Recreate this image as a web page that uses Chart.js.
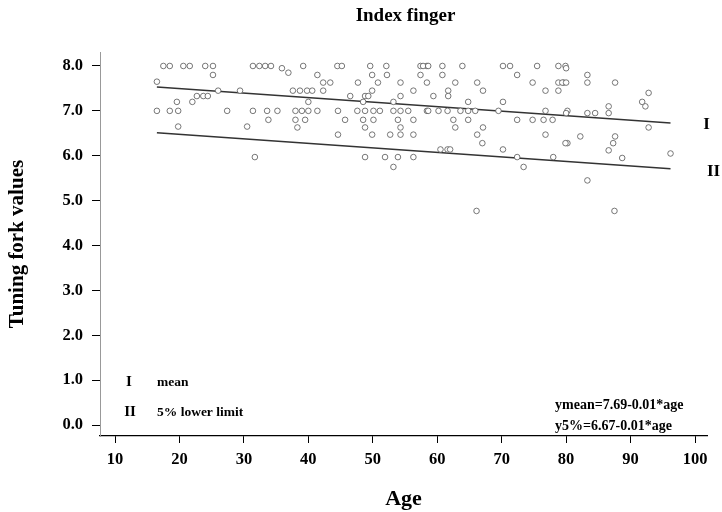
<!DOCTYPE html>
<html>
<head>
<meta charset="utf-8">
<script src="https://cdn.jsdelivr.net/npm/chart.js@4"></script>
<style>
  body { margin: 0; background: #fff; }
</style>
</head>
<body>
<canvas id="Chart_Index" width="722" height="512"></canvas>
<script>
// ages and tuning fork readings, grouped by reading
const ages = [
  17.5, 18.5, 20.6, 21.6, 24.0, 25.2, 31.4, 32.4, 33.3, 34.2, 35.9, 39.2, 44.5, 45.2, 49.6, 52.1, 57.4, 58.4,
  57.8, 58.6, 60.8, 63.9, 70.2, 71.3, 75.5, 78.8, 79.9, 80.0,
  25.2, 36.9, 41.4, 49.9, 52.2, 57.4, 60.8, 72.4, 83.3,
  16.5, 42.3, 43.4, 47.7, 50.8, 54.3, 58.4, 62.8, 66.2, 74.8, 78.8, 79.6, 79.4, 80.0, 83.3, 87.6,
  26.0, 29.4, 37.6, 38.7, 39.8, 40.6, 42.3, 49.9, 56.3, 61.7, 67.1, 76.8, 78.8, 92.8,
  22.7, 23.7, 24.4, 46.5, 48.8, 49.3, 54.3, 59.4, 61.7,
  19.6, 22.0, 40.0, 48.5, 53.2, 64.8, 70.2, 91.8,
  92.3, 86.6,
  16.5, 18.5, 19.8, 27.4, 31.4, 33.6, 35.2, 38.0, 39.0, 40.0, 41.4, 44.6, 47.6, 48.8, 50.1, 51.1, 53.2, 54.3,
  55.5, 58.4, 58.6, 60.2, 61.6, 63.6, 64.8, 65.9, 69.5, 76.8, 80.2, 80.0, 83.3, 84.5, 86.6,
  33.8, 38.0, 39.5, 45.7, 48.5, 50.1, 53.9, 56.3, 62.5, 64.8, 72.4, 74.8, 76.5, 77.9,
  19.8, 30.5, 38.3, 48.8, 54.3, 62.8, 67.1, 92.8,
  44.6, 49.9, 52.7, 54.3, 56.3, 66.2, 76.8, 82.2, 87.6,
  67.0, 80.2, 79.9, 87.3,
  60.5, 61.6, 62.0, 70.2, 86.6,
  96.2,
  31.7, 48.8, 51.9, 53.9, 56.3, 72.4, 78.0, 88.7,
  53.2, 73.4,
  83.3,
  66.1, 87.5
];
const values = [
  8.0, 8.0, 8.0, 8.0, 8.0, 8.0, 8.0, 8.0, 8.0, 8.0, 7.95, 8.0, 8.0, 8.0, 8.0, 8.0, 8.0, 8.0,
  8.0, 8.0, 8.0, 8.0, 8.0, 8.0, 8.0, 8.0, 8.0, 7.95,
  7.8, 7.85, 7.8, 7.8, 7.8, 7.8, 7.8, 7.8, 7.8,
  7.65, 7.63, 7.63, 7.63, 7.63, 7.63, 7.63, 7.63, 7.63, 7.63, 7.63, 7.63, 7.63, 7.63, 7.63, 7.63,
  7.45, 7.45, 7.45, 7.45, 7.45, 7.45, 7.45, 7.45, 7.45, 7.45, 7.45, 7.45, 7.45, 7.4,
  7.33, 7.33, 7.33, 7.33, 7.33, 7.33, 7.33, 7.33, 7.33,
  7.2, 7.2, 7.2, 7.2, 7.2, 7.2, 7.2, 7.2,
  7.1, 7.1,
  7.0, 7.0, 7.0, 7.0, 7.0, 7.0, 7.0, 7.0, 7.0, 7.0, 7.0, 7.0, 7.0, 7.0, 7.0, 7.0, 7.0, 7.0,
  7.0, 7.0, 7.0, 7.0, 7.0, 7.0, 7.0, 7.0, 7.0, 7.0, 7.0, 6.95, 6.95, 6.95, 6.95,
  6.8, 6.8, 6.8, 6.8, 6.8, 6.8, 6.8, 6.8, 6.8, 6.8, 6.8, 6.8, 6.8, 6.8,
  6.65, 6.65, 6.63, 6.63, 6.63, 6.63, 6.63, 6.63,
  6.47, 6.47, 6.47, 6.47, 6.47, 6.47, 6.47, 6.43, 6.43,
  6.28, 6.28, 6.28, 6.28,
  6.14, 6.14, 6.14, 6.14, 6.12,
  6.05,
  5.97, 5.97, 5.97, 5.97, 5.97, 5.97, 5.97, 5.95,
  5.75, 5.75,
  5.45,
  4.77, 4.77
];
// regression line end points (age, value)
const meanLineAges = [16.5, 96.2];
const meanLineValues = [7.53, 6.73];
const lowerLineAges = [16.5, 96.2];
const lowerLineValues = [6.51, 5.71];
const xTicks = [10, 20, 30, 40, 50, 60, 70, 80, 90, 100];
const yTicks = [0, 1, 2, 3, 4, 5, 6, 7, 8];

const serif = '"Liberation Serif", "Times New Roman", serif';
const toPoints = (xs, ys) => xs.map((x, i) => ({ x: x, y: ys[i] }));

// title over the plot, I / II at line ends, key bottom left, equations bottom right
const notes = {
  id: "notes",
  afterDraw(chart) {
    const c = chart.ctx;
    const xs = chart.scales.x;
    const ys = chart.scales.y;
    const area = chart.chartArea;
    c.save();
    c.fillStyle = "#000";
    c.textBaseline = "middle";
    c.textAlign = "center";
    c.font = "bold 19px " + serif;
    c.fillText("Index finger", (area.left + area.right) / 2 + 2, 16);
    c.font = "bold 17px " + serif;
    c.fillText("I", xs.getPixelForValue(meanLineAges[1]) + 36, ys.getPixelForValue(meanLineValues[1]) + 2);
    c.fillText("II", xs.getPixelForValue(lowerLineAges[1]) + 43, ys.getPixelForValue(lowerLineValues[1]) + 3);
    c.font = "bold 15px " + serif;
    c.fillText("I", 129, 382);
    c.fillText("II", 130, 412);
    c.textAlign = "left";
    c.font = "bold 13.5px " + serif;
    c.fillText("mean", 157, 383);
    c.fillText("5% lower limit", 157, 413);
    c.font = "bold 14px " + serif;
    c.fillText("ymean=7.69-0.01*age", 555, 405);
    c.fillText("y5%=6.67-0.01*age", 555, 426);
    c.restore();
  },
};

const ctx = document.getElementById("Chart_Index");
const myChart = new Chart(ctx, {
  type: "scatter",
  data: {
    datasets: [
      {
        label: "values",
        data: toPoints(ages, values),
        backgroundColor: "#fff",
        borderColor: "#555",
        borderWidth: 0.8,
        pointRadius: 2.8,
      },
      {
        label: "mean",
        data: toPoints(meanLineAges, meanLineValues),
        showLine: true,
        borderColor: "#333",
        borderWidth: 1.5,
        pointRadius: 0,
      },
      {
        label: "5% lower limit",
        data: toPoints(lowerLineAges, lowerLineValues),
        showLine: true,
        borderColor: "#333",
        borderWidth: 1.5,
        pointRadius: 0,
      },
    ],
  },
  options: {
    responsive: false,
    animation: false,
    layout: { padding: { left: 0, right: 15, top: 52.2, bottom: 0 } },
    plugins: {
      legend: { display: false },
      tooltip: { enabled: false },
      title: { display: false },
    },
    scales: {
      x: {
        type: "linear",
        min: 7.67,
        max: 101.86,
        afterFit(s) { s.height = 76; },
        afterBuildTicks(s) { s.ticks = xTicks.map((v) => ({ value: v })); },
        ticks: {
          color: "#000",
          padding: 7,
          font: { family: serif, size: 16.5, weight: "bold" },
          callback: (v) => String(v),
        },
        grid: { drawOnChartArea: false, drawTicks: true, tickLength: 7, color: "#000" },
        border: { color: "#000", width: 1.2 },
        title: {
          display: true,
          text: "Age",
          color: "#000",
          font: { family: serif, size: 22, weight: "bold" },
          padding: { top: 0, bottom: -1 },
        },
      },
      y: {
        min: -0.245,
        max: 8.307,
        afterFit(s) { s.width = 100; },
        afterBuildTicks(s) { s.ticks = yTicks.map((v) => ({ value: v })); },
        ticks: {
          color: "#000",
          padding: 9,
          font: { family: serif, size: 16.5, weight: "bold" },
          callback: (v) => v.toFixed(1),
        },
        grid: { drawOnChartArea: false, drawTicks: true, tickLength: 8, color: "#000" },
        border: { color: "#999", width: 1, dash: [1, 2] },
        title: {
          display: true,
          text: "Tuning fork values",
          color: "#000",
          font: { family: serif, size: 21, weight: "bold" },
          padding: { top: 5, bottom: 0 },
        },
      },
    },
  },
  plugins: [notes],
});
</script>
</body>
</html>
